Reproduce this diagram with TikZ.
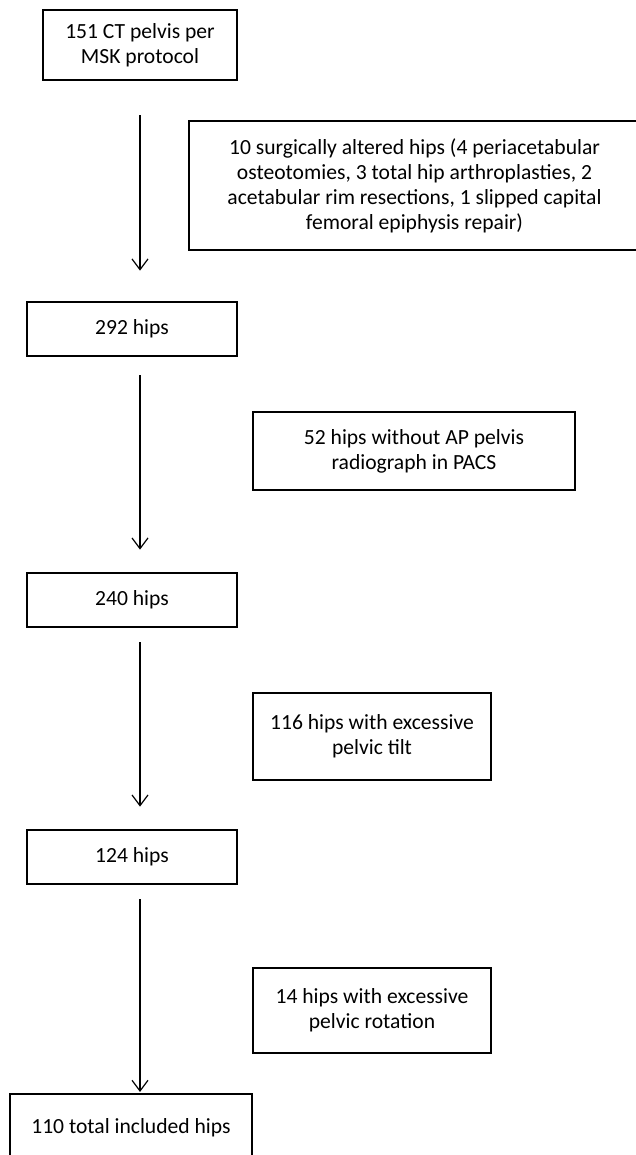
\documentclass[tikz,border=0pt]{standalone}
\usepackage{fontspec}
\setmainfont{Carlito}
\usetikzlibrary{arrows.meta}

\tikzset{
  box/.style={draw, line width=1.1pt, align=center, inner sep=0pt,
    font=\fontsize{16.2}{18.75}\selectfont},
  flow/.style={-{Straight Barb[length=8pt,width=12pt]}, line width=0.9pt},
}

\begin{document}
\begin{tikzpicture}[x=0.75pt,y=0.75pt,yscale=-1,xscale=1]
\useasboundingbox (0,0) rectangle (635,1155);

% main column
\node [box, minimum width=145.5pt, minimum height=52.5pt] (b151) at (140,45) {151 CT pelvis per\\MSK protocol};
\node [box, minimum width=157.5pt, minimum height=40.5pt] (b292) at (132,329) {292 hips};
\node [box, minimum width=157.5pt, minimum height=40.5pt] (b240) at (132,600) {240 hips};
\node [box, minimum width=157.5pt, minimum height=40.5pt] (b124) at (132,857) {124 hips};
\node [box, minimum width=181.5pt, minimum height=51pt] (b110) at (131,1128) {110 total included hips};

% excluded
\node [box, minimum width=338.25pt, minimum height=96.75pt] (s10) at (414.5,185.5) {10 surgically altered hips (4 periacetabular\\osteotomies, 3 total hip arthroplasties, 2\\acetabular rim resections, 1 slipped capital\\femoral epiphysis repair)};
\node [box, minimum width=241.5pt, minimum height=58.5pt] (s52) at (414,451) {52 hips without AP pelvis\\radiograph in PACS};
\node [box, minimum width=178.5pt, minimum height=65.25pt] (s116) at (372,736.5) {116 hips with excessive\\pelvic tilt};
\node [box, minimum width=178.5pt, minimum height=63.75pt] (s14) at (372,1010.5) {14 hips with excessive\\pelvic rotation};

% arrows
\draw [flow, shorten <=26, shorten >=23] (b151.south) -- (b151.south |- b292.north);
\draw [flow, shorten <=14, shorten >=17] (b151.south |- b292.south) -- (b151.south |- b240.north);
\draw [flow, shorten <=11, shorten >=17] (b151.south |- b240.south) -- (b151.south |- b124.north);
\draw [flow, shorten <=11, shorten >=1] (b151.south |- b124.south) -- (b151.south |- b110.north);

\end{tikzpicture}
\end{document}
